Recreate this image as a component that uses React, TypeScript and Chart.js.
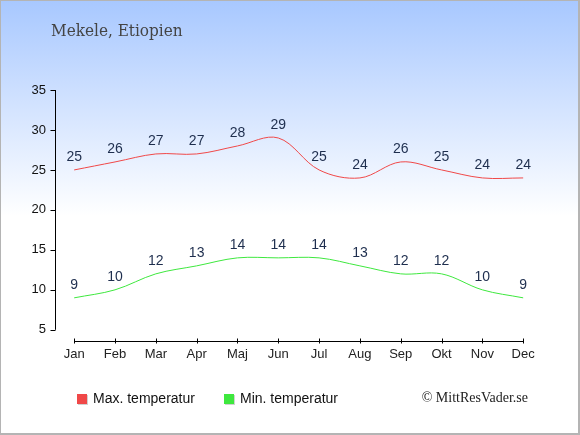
import { useEffect, useRef } from "react";
import { Chart, registerables } from "chart.js";

Chart.register(...registerables);

const months = ["Jan", "Feb", "Mar", "Apr", "Maj", "Jun", "Jul", "Aug", "Sep", "Okt", "Nov", "Dec"];
const maxTemps = [25, 26, 27, 27, 28, 29, 25, 24, 26, 25, 24, 24];
const minTemps = [9, 10, 12, 13, 14, 14, 14, 13, 12, 12, 10, 9];
const yTicks = [5, 10, 15, 20, 25, 30, 35];

const title = "Mekele, Etiopien";
const copyright = "© MittResVader.se";
const maxColor = "#f04848";
const minColor = "#3ee83e";
const sans = "'Liberation Sans', Arial, sans-serif";
const titleFont = "'DejaVu Serif Condensed', 'DejaVu Serif', serif";
const creditFont = "'Liberation Serif', 'Times New Roman', serif";

const series = [maxTemps, minTemps];

const decorPlugin = {
  id: "decor",
  afterDraw(chart: any) {
    const { ctx, scales, chartArea } = chart;
    const x = scales.x;
    const y = scales.y;
    ctx.save();

    // title
    ctx.fillStyle = "#444";
    ctx.font = `17px ${titleFont}`;
    ctx.textBaseline = "middle";
    ctx.textAlign = "left";
    ctx.fillText(title, 51, 32);

    // axes
    ctx.strokeStyle = "#000";
    ctx.lineWidth = 1;
    const ax = Math.round(chartArea.left) + 0.5;
    ctx.beginPath();
    ctx.moveTo(ax, y.getPixelForValue(yTicks[0]));
    ctx.lineTo(ax, y.getPixelForValue(yTicks[yTicks.length - 1]));
    yTicks.forEach((t) => {
      const py = Math.round(y.getPixelForValue(t)) + 0.5;
      ctx.moveTo(ax - 5, py);
      ctx.lineTo(ax, py);
    });
    const by = Math.round(chartArea.bottom) + 0.5;
    ctx.moveTo(x.getPixelForValue(0), by);
    ctx.lineTo(x.getPixelForValue(months.length - 1), by);
    months.forEach((_, i) => {
      const px = Math.round(x.getPixelForValue(i)) + 0.5;
      ctx.moveTo(px, by - 3);
      ctx.lineTo(px, by + 2);
    });
    ctx.stroke();

    // data labels
    ctx.fillStyle = "#1e2e4e";
    ctx.font = `14px ${sans}`;
    ctx.textAlign = "center";
    ctx.textBaseline = "middle";
    series.forEach((values, di) => {
      const meta = chart.getDatasetMeta(di);
      meta.data.forEach((pt: any, i: number) => {
        ctx.fillText(String(values[i]), pt.x, pt.y - 13);
      });
    });

    // legend
    const legendX = [77, 224];
    ctx.font = `14px ${sans}`;
    ctx.textAlign = "left";
    chart.data.datasets.forEach((ds: any, i: number) => {
      const lx = legendX[i];
      ctx.fillStyle = "rgba(0,0,0,0.18)";
      ctx.fillRect(lx + 1, 395, 10, 10);
      ctx.fillStyle = ds.borderColor;
      ctx.fillRect(lx, 394, 10, 10);
      ctx.fillStyle = "#111";
      ctx.fillText(ds.label, lx + 16, 399);
    });

    ctx.fillStyle = "#222";
    ctx.font = `14px ${creditFont}`;
    ctx.textAlign = "right";
    ctx.fillText(copyright, 528, 398);
    ctx.restore();
  },
};

function TempChart() {
  const canvasRef = useRef<HTMLCanvasElement | null>(null);

  useEffect(() => {
    const canvas = canvasRef.current;
    if (!canvas) return;

    const chart = new Chart(canvas, {
      type: "line",
      data: {
        labels: months,
        datasets: [
          {
            label: "Max. temperatur",
            data: maxTemps.map((v, i) => ({ x: i, y: v })),
            borderColor: maxColor,
            borderWidth: 1,
            pointRadius: 0,
            tension: 0.35,
            fill: false,
          },
          {
            label: "Min. temperatur",
            data: minTemps.map((v, i) => ({ x: i, y: v })),
            borderColor: minColor,
            borderWidth: 1,
            pointRadius: 0,
            tension: 0.35,
            fill: false,
          },
        ],
      },
      options: {
        animation: false,
        responsive: false,
        maintainAspectRatio: false,
        layout: { padding: { left: 5, right: 56, top: 90, bottom: 64 } },
        plugins: {
          legend: { display: false },
          tooltip: { enabled: false },
        },
        scales: {
          x: {
            type: "linear",
            min: -0.47,
            max: 11.02,
            afterBuildTicks: (scale: any) => {
              scale.ticks = months.map((_, i) => ({ value: i }));
            },
            afterFit: (scale: any) => {
              scale.height = 30;
            },
            grid: { display: false, drawTicks: false },
            border: { display: false },
            ticks: {
              color: "#222",
              font: { family: sans, size: 13 },
              padding: 6,
              maxRotation: 0,
              autoSkip: false,
              callback: (v: any) => months[v] ?? "",
            },
          },
          y: {
            min: 3.6,
            max: 35,
            afterBuildTicks: (scale: any) => {
              scale.ticks = yTicks.map((v) => ({ value: v }));
            },
            afterFit: (scale: any) => {
              scale.width = 50;
            },
            grid: { display: false, drawTicks: false },
            border: { display: false },
            ticks: {
              color: "#111",
              font: { family: sans, size: 13 },
              padding: 9,
            },
          },
        },
      },
      plugins: [decorPlugin],
    } as any);

    return () => {
      chart.destroy();
    };
  }, []);

  return <canvas ref={canvasRef} width={580} height={435} style={{ display: "block" }} />;
}

export default function App() {
  return (
    <div
      style={{
        position: "fixed",
        left: 0,
        top: 0,
        width: 580,
        height: 435,
        boxSizing: "border-box",
        border: "1px solid #b4b4b4",
        borderRight: "2px solid #b4b4b4",
        borderBottom: "2px solid #b4b4b4",
        background: "linear-gradient(to bottom, #a8c8ff 0px, #ffffff 215px, #ffffff 100%)",
        overflow: "hidden",
      }}
    >
      <div style={{ position: "absolute", left: -1, top: -1 }}>
        <TempChart />
      </div>
    </div>
  );
}
